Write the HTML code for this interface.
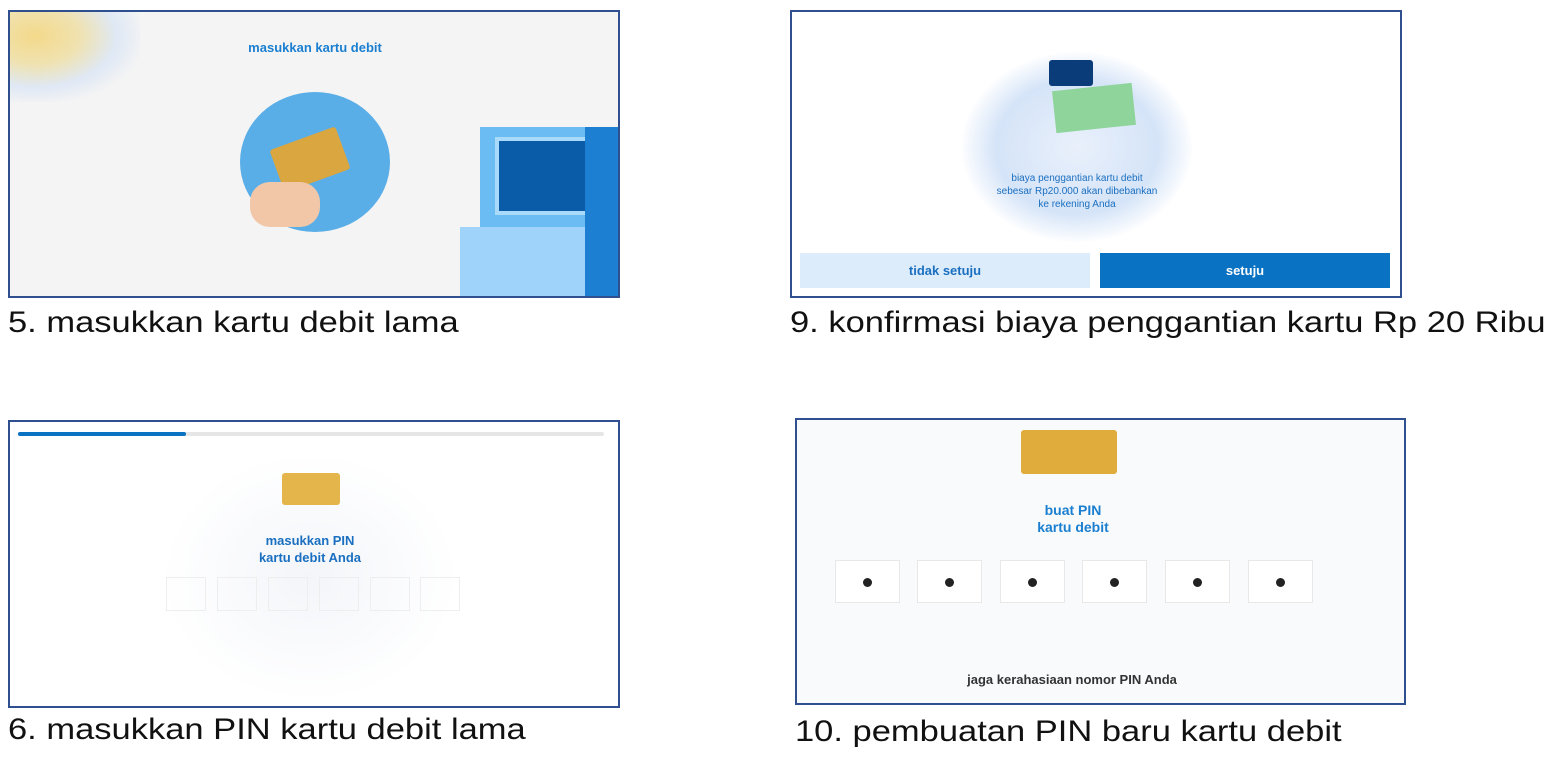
<!DOCTYPE html>
<html><head><meta charset="utf-8"><style>
body{margin:0;width:1556px;height:757px;background:#fff;position:relative;overflow:hidden;font-family:"Liberation Sans",sans-serif}
.p{position:absolute;border:2px solid #2f4f8f;box-sizing:border-box;overflow:hidden}
.cap{position:absolute;font-size:30px;color:#111;white-space:nowrap;transform:scaleX(1.15);transform-origin:0 0}
.a{position:absolute}
.t{position:absolute;color:#1a7fd0;font-weight:bold;text-align:center;white-space:nowrap}
</style></head><body>

<div class="p" style="left:8px;top:10px;width:612px;height:288px;background:#f4f4f4">
 <div class="a" style="left:-20px;top:-20px;width:150px;height:110px;background:radial-gradient(ellipse at 30% 40%,#f3d98a 0,#f0e2b0 30%,#dfe8f5 55%,rgba(244,244,244,0) 75%)"></div>
 <div class="t" style="left:200px;top:28px;width:210px;font-size:13px">masukkan kartu debit</div>
 <div class="a" style="left:230px;top:80px;width:150px;height:140px;border-radius:50%;background:#5aaee8"></div>
 <div class="a" style="left:265px;top:125px;width:70px;height:45px;background:#d9a640;transform:rotate(-20deg);border-radius:3px"></div>
 <div class="a" style="left:240px;top:170px;width:70px;height:45px;background:#f2c7a8;border-radius:20px"></div>
 <div class="a" style="left:470px;top:115px;width:140px;height:175px;background:#6bbcf3"></div>
 <div class="a" style="left:485px;top:125px;width:100px;height:70px;background:#0b5ca8;border:4px solid #a9d9fb"></div>
 <div class="a" style="left:450px;top:215px;width:130px;height:75px;background:#9fd3fa"></div>
 <div class="a" style="left:575px;top:115px;width:40px;height:175px;background:#1d7fd1"></div>
</div>
<div class="cap" style="left:8px;top:306px">5. masukkan kartu debit lama</div>

<div class="p" style="left:790px;top:10px;width:612px;height:288px;background:#fff">
 <div class="a" style="left:170px;top:40px;width:230px;height:190px;border-radius:50%;background:radial-gradient(ellipse,#e9f0fb 0,#d5e4f8 50%,rgba(255,255,255,0) 72%)"></div>
 <div class="a" style="left:257px;top:48px;width:44px;height:26px;background:#0b3c7a;border-radius:3px"></div>
 <div class="a" style="left:262px;top:75px;width:80px;height:42px;background:#8fd49a;transform:rotate(-6deg)"></div>
 <div class="t" style="left:150px;top:160px;width:270px;font-size:10px;line-height:13px;font-weight:normal;color:#1a6fc0">biaya penggantian kartu debit<br>sebesar Rp20.000 akan dibebankan<br>ke rekening Anda</div>
 <div class="a" style="left:8px;top:241px;width:290px;height:35px;background:#dcecfb;color:#1a6fc0;font-size:13px;text-align:center;line-height:35px;font-weight:bold">tidak setuju</div>
 <div class="a" style="left:308px;top:241px;width:290px;height:35px;background:#0a72c2;color:#fff;font-size:13px;text-align:center;line-height:35px;font-weight:bold">setuju</div>
</div>
<div class="cap" style="left:790px;top:306px">9. konfirmasi biaya penggantian kartu Rp 20 Ribu</div>

<div class="p" style="left:8px;top:420px;width:612px;height:288px;background:#fff">
 <div class="a" style="left:8px;top:10px;width:586px;height:4px;background:#e6e6e6;border-radius:2px"></div>
 <div class="a" style="left:8px;top:10px;width:168px;height:4px;background:#0a72c2;border-radius:2px"></div>
 <div class="a" style="left:150px;top:30px;width:300px;height:250px;border-radius:50%;background:radial-gradient(ellipse,#f3f5f9 0,rgba(255,255,255,0) 70%)"></div>
 <div class="a" style="left:272px;top:51px;width:58px;height:32px;background:#e3b54a;border-radius:3px"></div>
 <div class="t" style="left:200px;top:110px;width:200px;font-size:13px;line-height:17px;color:#1a6fc0">masukkan PIN<br>kartu debit Anda</div>
 <div class="a" style="left:156px;top:155px;width:40px;height:34px;border:1px solid #eee;box-sizing:border-box"></div>
 <div class="a" style="left:207px;top:155px;width:40px;height:34px;border:1px solid #eee;box-sizing:border-box"></div>
 <div class="a" style="left:258px;top:155px;width:40px;height:34px;border:1px solid #eee;box-sizing:border-box"></div>
 <div class="a" style="left:309px;top:155px;width:40px;height:34px;border:1px solid #eee;box-sizing:border-box"></div>
 <div class="a" style="left:360px;top:155px;width:40px;height:34px;border:1px solid #eee;box-sizing:border-box"></div>
 <div class="a" style="left:410px;top:155px;width:40px;height:34px;border:1px solid #eee;box-sizing:border-box"></div>
</div>
<div class="cap" style="left:8px;top:713px">6. masukkan PIN kartu debit lama</div>

<div class="p" style="left:795px;top:418px;width:611px;height:287px;background:#f9fafc">
 <div class="a" style="left:224px;top:10px;width:96px;height:44px;background:#e0ad3c;border-radius:3px"></div>
 <div class="t" style="left:176px;top:82px;width:200px;font-size:14px;line-height:17px;color:#1a7fd0">buat PIN<br>kartu debit</div>
 <div class="a" style="left:38px;top:140px;width:65px;height:43px;background:#fff;border:1px solid #e8e8e8;box-sizing:border-box"><div class="a" style="left:27px;top:17px;width:9px;height:9px;border-radius:50%;background:#222"></div></div>
 <div class="a" style="left:120px;top:140px;width:65px;height:43px;background:#fff;border:1px solid #e8e8e8;box-sizing:border-box"><div class="a" style="left:27px;top:17px;width:9px;height:9px;border-radius:50%;background:#222"></div></div>
 <div class="a" style="left:203px;top:140px;width:65px;height:43px;background:#fff;border:1px solid #e8e8e8;box-sizing:border-box"><div class="a" style="left:27px;top:17px;width:9px;height:9px;border-radius:50%;background:#222"></div></div>
 <div class="a" style="left:285px;top:140px;width:65px;height:43px;background:#fff;border:1px solid #e8e8e8;box-sizing:border-box"><div class="a" style="left:27px;top:17px;width:9px;height:9px;border-radius:50%;background:#222"></div></div>
 <div class="a" style="left:368px;top:140px;width:65px;height:43px;background:#fff;border:1px solid #e8e8e8;box-sizing:border-box"><div class="a" style="left:27px;top:17px;width:9px;height:9px;border-radius:50%;background:#222"></div></div>
 <div class="a" style="left:451px;top:140px;width:65px;height:43px;background:#fff;border:1px solid #e8e8e8;box-sizing:border-box"><div class="a" style="left:27px;top:17px;width:9px;height:9px;border-radius:50%;background:#222"></div></div>
 <div class="t" style="left:100px;top:252px;width:350px;font-size:13px;color:#333">jaga kerahasiaan nomor PIN Anda</div>
</div>
<div class="cap" style="left:795px;top:715px">10. pembuatan PIN baru kartu debit</div>

</body></html>
